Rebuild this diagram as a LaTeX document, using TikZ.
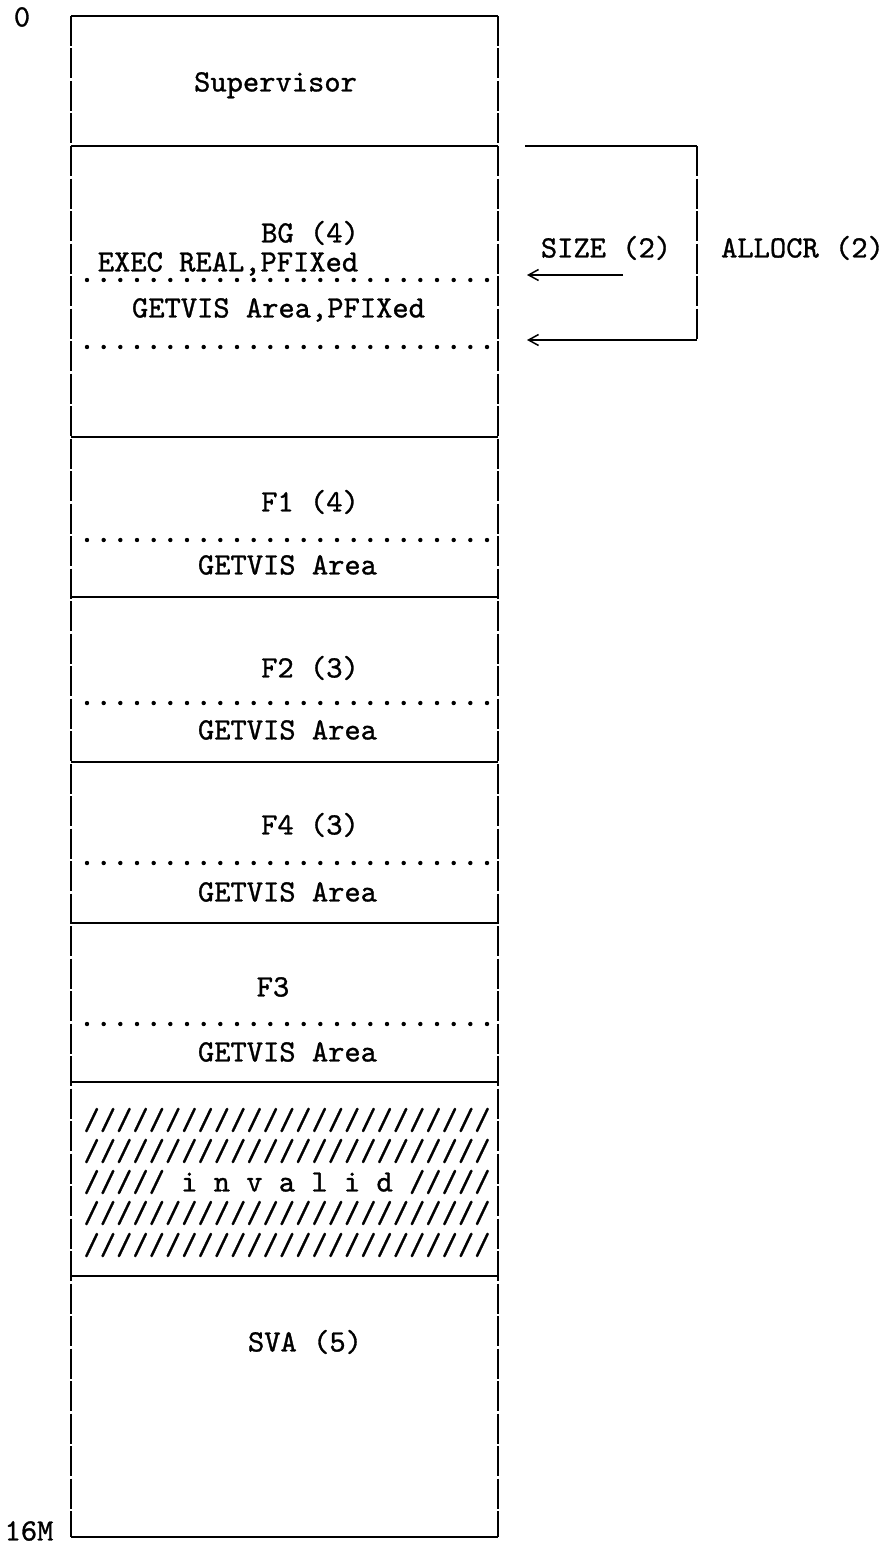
\documentclass[tikz,border=0pt]{standalone}
\usepackage{fontspec}
\newfontfamily\tw{lmmono10-regular}[Extension=.otf,FakeBold=1.0]
\usetikzlibrary{arrows.meta}
\begin{document}
\begin{tikzpicture}[x=1pt,y=-1pt,
  frame/.style={line width=1.3pt},
  vrule/.style={line width=1.4pt, dash pattern=on 30pt off 2.5pt},
  lbl/.style={font=\tw\fontsize{31}{34}\selectfont, inner sep=0pt, text height=18.9pt, text depth=0pt, anchor=center},
  arr/.style={line width=1.3pt, -{Straight Barb[length=10pt,width=11pt,line width=1.5pt]}},
  dotrow/.style={fill=black}
]
\useasboundingbox (0,0) rectangle (886,1544);
% frame
\foreach \yy in {16,146,437,597,762,923,1082,1276,1537}
  \draw[frame] (71,\yy) -- (498,\yy);
\draw[vrule] (71,16) -- (71,1537);
\draw[vrule] (498,16) -- (498,1537);
% dotted rows
\foreach \yy in {280,347,540,703,863,1024}
  \foreach \i in {0,...,24}
    \fill[dotrow] (87+\i*16.667,\yy) circle (2.2);
% labels
\node[lbl] (zero) at (22,17) {0};
\node[lbl] (sixteen) at (29,1531) {16M};
\node[lbl] (sup) at (275.5,82) {Supervisor};
\node[lbl] (bg) at (310,233) {BG (4)};
\node[lbl] (exec) at (228,262) {EXEC REAL,PFIXed};
\node[lbl] (gvbg) at (278.5,308) {GETVIS Area,PFIXed};
\node[lbl] (f1) at (310,502) {F1 (4)};
\node[lbl] (gv1) at (287.5,565) {GETVIS Area};
\node[lbl] (f2) at (310,668) {F2 (3)};
\node[lbl] (gv2) at (287.5,730) {GETVIS Area};
\node[lbl] (f4) at (310,825) {F4 (3)};
\node[lbl] (gv4) at (287.5,892) {GETVIS Area};
\node[lbl] (f3) at (273,987) {F3};
\node[lbl] (gv3) at (287.5,1052) {GETVIS Area};
\node[lbl] (inv1) at (287,1120) {/////////////////////////};
\node[lbl] (inv2) at (287,1151) {/////////////////////////};
\node[lbl] (inv3) at (287,1182) {///// i n v a l i d /////};
\node[lbl] (inv4) at (287,1213) {/////////////////////////};
\node[lbl] (inv5) at (287,1245) {/////////////////////////};
\node[lbl] (sva) at (305,1342) {SVA (5)};
\node[lbl] (size) at (606,248) {SIZE (2)};
\node[lbl] (alloc) at (802.5,248) {ALLOCR (2)};
% arrows
\coordinate (sizeS) at (623,275);
\coordinate (sizeE) at (527,275);
\coordinate (brTL) at (525,146);
\coordinate (brTR) at (697,146);
\coordinate (brBR) at (697,340);
\coordinate (brBL) at (527,340);
\draw[arr] (sizeS) -- (sizeE);
\draw[frame] (brTL) -- (brTR);
\draw[vrule] (brTR) -- (brBR);
\draw[arr] (brBR) -- (brBL);
\end{tikzpicture}
\end{document}
